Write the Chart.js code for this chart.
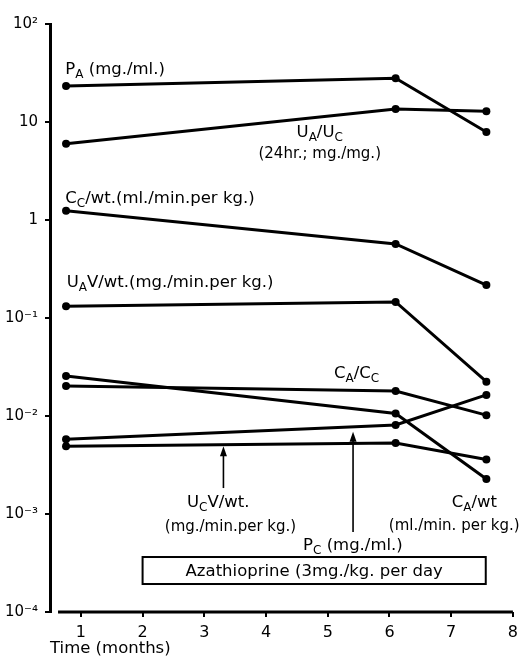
<!DOCTYPE html>
<html><head><meta charset="utf-8">
<script src="https://cdn.jsdelivr.net/npm/chart.js@4/dist/chart.umd.min.js"></script>
<style>html,body{margin:0;padding:0;background:#fff}canvas{display:block}</style>
</head><body>
<canvas id="c" width="524" height="669"></canvas>
<script>
// ---- data ----
const months = [0.76, 6.1, 7.57];
const pA    = [23.3, 28, 7.9];
const uAuC  = [6.0, 13.6, 12.9];
const cCwt  = [1.24, 0.57, 0.217];
const uAVwt = [0.132, 0.146, 0.0224];
const cAwt  = [0.0256, 0.0106, 0.00228];
const cAcC  = [0.0202, 0.018, 0.0102];
const pC    = [0.0058, 0.0081, 0.0164];
const uCVwt = [0.0049, 0.0053, 0.0036];
const xTicks = [1, 2, 3, 4, 5, 6, 7, 8];
const yTicks = [1e-4, 1e-3, 1e-2, 1e-1, 1, 10, 100];
const yTickLabels = ['10⁻⁴', '10⁻³', '10⁻²', '10⁻¹', '1', '10', '10²'];
const treatmentText = 'Azathioprine (3mg./kg. per day';
const treatmentMonths = [2.0, 7.56];

const seriesNames = ['PA', 'UA/UC', 'CC/wt', 'UAV/wt', 'CA/wt', 'CA/CC', 'PC', 'UCV/wt'];
const seriesValues = [pA, uAuC, cCwt, uAVwt, cAwt, cAcC, pC, uCVwt];

const FONT = '"DejaVu Sans", sans-serif';
const MAIN = '16.5px ' + FONT;
const SMALL = '15px ' + FONT;
const SUB = '12px ' + FONT;

// labels: parts + anchor in data coordinates
const labels = [
  {parts: [['P'], ['A', 1], [' (mg./ml.)']], x: 0.748, y: 30.9},
  {parts: [['U'], ['A', 1], ['/U'], ['C', 1]], x: 4.87, y: 7.03, align: 'center'},
  {parts: [['(24hr.; mg./mg.)', 2]], x: 4.87, y: 4.29, align: 'center'},
  {parts: [['C'], ['C', 1], ['/wt.(ml./min.per kg.)']], x: 0.748, y: 1.49},
  {parts: [['U'], ['A', 1], ['V/wt.(mg./min.per kg.)']], x: 0.77, y: 0.207},
  {parts: [['C'], ['A', 1], ['/C'], ['C', 1]], x: 5.10, y: 0.0244},
  {parts: [['U'], ['C', 1], ['V/wt.']], x: 2.72, y: 1.18e-3},
  {parts: [['(mg./min.per kg.)', 2]], x: 2.36, y: 6.71e-4},
  {parts: [['P'], ['C', 1], [' (mg./ml.)']], x: 4.60, y: 4.29e-4},
  {parts: [['C'], ['A', 1], ['/wt']], x: 7.01, y: 1.18e-3},
  {parts: [['(ml./min. per kg.)', 2]], x: 5.99, y: 6.87e-4}
];
const arrows = [
  {x: 3.31, from: 1.84e-3, to: 4.9e-3},
  {x: 5.41, from: 6.55e-4, to: 6.9e-3}
];

function fontOf(p) { return p[1] === 1 ? SUB : (p[1] === 2 ? SMALL : MAIN); }

function drawRich(ctx, parts, x, y, align) {
  let w = 0;
  parts.forEach(p => { ctx.font = fontOf(p); w += ctx.measureText(p[0]).width; });
  let cx = align === 'center' ? x - w / 2 : x;
  ctx.textAlign = 'left';
  ctx.textBaseline = 'alphabetic';
  parts.forEach(p => {
    ctx.font = fontOf(p);
    ctx.fillText(p[0], cx, p[1] === 1 ? y + 4 : y);
    cx += ctx.measureText(p[0]).width;
  });
}

const annot = {
  id: 'annot',
  afterDatasetsDraw(chart) {
    const ctx = chart.ctx, xs = chart.scales.x, ys = chart.scales.y;
    ctx.save();
    ctx.fillStyle = '#000';
    ctx.strokeStyle = '#000';
    // x axis line (starts a little right of the y axis)
    ctx.lineWidth = 3;
    ctx.beginPath();
    ctx.moveTo(xs.getPixelForValue(0.63), chart.chartArea.bottom);
    ctx.lineTo(xs.getPixelForValue(8), chart.chartArea.bottom);
    ctx.stroke();
    labels.forEach(l => drawRich(ctx, l.parts, xs.getPixelForValue(l.x), ys.getPixelForValue(l.y), l.align));
    // arrows
    ctx.lineWidth = 1.6;
    arrows.forEach(a => {
      const px = xs.getPixelForValue(a.x), y0 = ys.getPixelForValue(a.from), y1 = ys.getPixelForValue(a.to);
      ctx.beginPath(); ctx.moveTo(px, y0); ctx.lineTo(px, y1 + 8); ctx.stroke();
      ctx.beginPath(); ctx.moveTo(px, y1); ctx.lineTo(px - 3.5, y1 + 10); ctx.lineTo(px + 3.5, y1 + 10); ctx.closePath(); ctx.fill();
    });
    // treatment box
    const bx0 = xs.getPixelForValue(treatmentMonths[0]), bx1 = xs.getPixelForValue(treatmentMonths[1]);
    const by0 = ys.getPixelForValue(3.64e-4), by1 = ys.getPixelForValue(1.93e-4);
    ctx.lineWidth = 2;
    ctx.strokeRect(bx0, by0, bx1 - bx0, by1 - by0);
    ctx.font = MAIN;
    ctx.textAlign = 'center';
    ctx.textBaseline = 'middle';
    ctx.fillText(treatmentText, (bx0 + bx1) / 2, (by0 + by1) / 2 + 1);
    ctx.restore();
  }
};

new Chart(document.getElementById('c'), {
  type: 'line',
  data: {
    datasets: seriesValues.map((vals, i) => ({
      label: seriesNames[i],
      data: months.map((m, j) => ({x: m, y: vals[j]})),
      borderColor: '#000',
      backgroundColor: '#000',
      borderWidth: 3,
      pointRadius: 4,
      pointBorderWidth: 0,
      pointBackgroundColor: '#000',
      tension: 0,
      fill: false
    }))
  },
  options: {
    responsive: false,
    animation: false,
    layout: {padding: {top: 24, right: 4, left: 0, bottom: 0}},
    plugins: {legend: {display: false}, tooltip: {enabled: false}},
    scales: {
      x: {
        type: 'linear', min: 0.5, max: 8,
        afterBuildTicks: s => { s.ticks = xTicks.map(v => ({value: v})); },
        afterFit: s => { s.height = 57; },
        border: {display: false},
        grid: {display: true, drawOnChartArea: false, drawTicks: true, tickLength: 5, color: '#000', lineWidth: 2},
        ticks: {color: '#000', font: {family: FONT, size: 16}, padding: 6, maxRotation: 0, autoSkip: false},
        title: {display: true, text: 'Time (months)', align: 'start', color: '#000', font: {family: FONT, size: 16.5}, padding: {top: 0, bottom: 10}}
      },
      y: {
        type: 'logarithmic', min: 1e-4, max: 100,
        afterBuildTicks: s => { s.ticks = yTicks.map(v => ({value: v})); },
        afterFit: s => { s.width = 50; },
        border: {display: true, color: '#000', width: 3},
        grid: {display: true, drawOnChartArea: false, drawTicks: true, tickLength: 5, color: '#000', lineWidth: 2},
        ticks: {color: '#000', font: {family: FONT, size: 15}, padding: 7, autoSkip: false,
          callback: v => yTickLabels[Math.round(Math.log10(v)) + 4]}
      }
    }
  },
  plugins: [annot]
});
</script>
</body></html>
